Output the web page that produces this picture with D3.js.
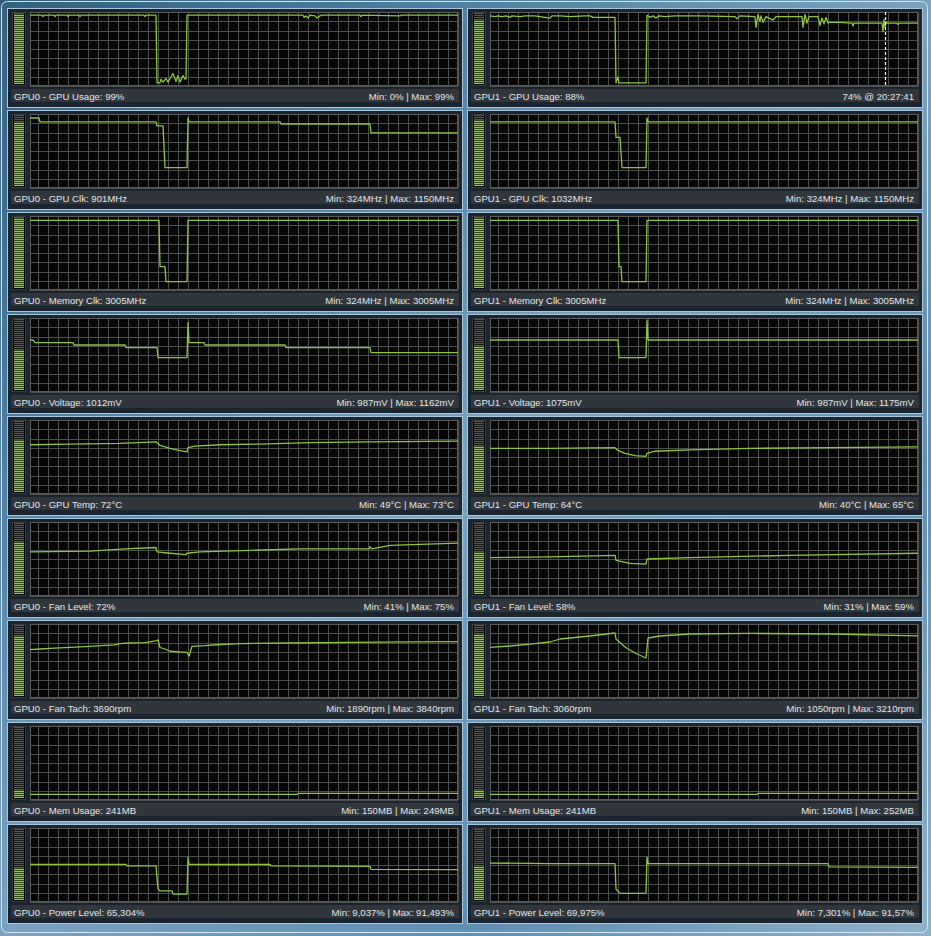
<!DOCTYPE html>
<html><head><meta charset="utf-8">
<script src="https://cdn.jsdelivr.net/npm/d3@7"></script>
<style>html,body{margin:0;padding:0;background:#4a7aa0;overflow:hidden}</style>
</head><body><svg id="c" width="931" height="936"></svg>
<script>
// ---------- DATA ----------
const titles0 = ["GPU0 - GPU Usage: 99%", "GPU0 - GPU Clk: 901MHz", "GPU0 - Memory Clk: 3005MHz", "GPU0 - Voltage: 1012mV", "GPU0 - GPU Temp: 72°C", "GPU0 - Fan Level: 72%", "GPU0 - Fan Tach: 3690rpm", "GPU0 - Mem Usage: 241MB", "GPU0 - Power Level: 65,304%"];
const stats0 = ["Min: 0% | Max: 99%", "Min: 324MHz | Max: 1150MHz", "Min: 324MHz | Max: 3005MHz", "Min: 987mV | Max: 1162mV", "Min: 49°C | Max: 73°C", "Min: 41% | Max: 75%", "Min: 1890rpm | Max: 3840rpm", "Min: 150MB | Max: 249MB", "Min: 9,037% | Max: 91,493%"];
const titles1 = ["GPU1 - GPU Usage: 88%", "GPU1 - GPU Clk: 1032MHz", "GPU1 - Memory Clk: 3005MHz", "GPU1 - Voltage: 1075mV", "GPU1 - GPU Temp: 64°C", "GPU1 - Fan Level: 58%", "GPU1 - Fan Tach: 3060rpm", "GPU1 - Mem Usage: 241MB", "GPU1 - Power Level: 69,975%"];
const stats1 = ["74% @ 20:27:41", "Min: 324MHz | Max: 1150MHz", "Min: 324MHz | Max: 3005MHz", "Min: 987mV | Max: 1175mV", "Min: 40°C | Max: 65°C", "Min: 31% | Max: 59%", "Min: 1050rpm | Max: 3210rpm", "Min: 150MB | Max: 252MB", "Min: 7,301% | Max: 91,57%"];

// y-axis ranges of each graph row [GPU0, GPU1]
const domains0 = [[0,100],[0,1200],[0,3150],[820,1180],[0,100],[0,100],[0,4800],[0,3072],[0,150]];
const domains1 = [[0,100],[0,1200],[0,3150],[820,1180],[0,100],[0,100],[0,3600],[0,3072],[0,150]];
// level meter fill fractions
const meter0 = [0.97, 0.9, 0.97, 0.56, 0.72, 0.72, 0.82, 0.1, 0.44];
const meter1 = [0.88, 0.92, 0.97, 0.6, 0.64, 0.58, 0.85, 0.1, 0.47];

// time window = 428 samples; cursor on GPU1 usage
const timeSpan = 428;
const cursorT = 395;

// series as [sample, value]
const gpu0Usage = [[0,97],[12,97],[13,95],[14,97],[24,97],[25,95],[26,97],[37,97],[38,95],[39,97],[49,97],[50,95],[51,97],[114,97],[115,95],[116,97],[126,97],
 [127,3],[130,3],[131,8],[133,4],[136,9],[138,4],[143,16],[146,5],[148,13],[150,4],[153,13],[155,8],[156,9],
 [157,97],[273,97],[274,94],[276,96],[278,93],[280,97],[285,96],[287,93],[289,95],[291,97],[330,97],[331,95],[332,97],[370,96],[371,97],[428,97]];
const gpu1Usage = [[0,96],[5,95],[8,96],[12,95],[16,96],[20,94],[22,96],[30,95],[35,96],[45,96],[50,95],[60,93],[62,96],[70,96],[80,95],[95,96],[100,96],[103,94],[125,94],
 [126,3],[128,11],[129,3],[156,3],
 [157,97],[160,94],[163,96],[166,93],[169,96],[175,95],[185,96],[210,96],[245,95],[247,92],[250,96],[265,95],[266,80],[268,98],[270,88],[271,96],[273,87],[276,95],[283,90],[286,95],[290,95],[312,95],[313,80],[315,98],[317,86],[319,95],[328,95],[330,83],[332,93],[334,85],[336,94],[338,86],
 [339,87],[350,87],[362,86],[363,82],[364,86],[392,86],[393,74],[394,91],[395,80],[396,88],[397,86],[407,86],[408,84],[409,86],[428,86]];

const gpu0Clk = [[0,1150],[9,1150],[10,1085],[126,1085],[127,1020],[133,1020],[135,324],[157,324],[158,1150],[159,1085],[250,1085],[251,1050],[340,1050],[341,901],[428,901]];
const gpu1Clk = [[0,1085],[125,1085],[126,827],[130,827],[132,324],[156,324],[157,1150],[158,1085],[428,1085]];

const gpu0MemClk = [[0,3005],[129,3005],[130,979],[135,979],[136,324],[157,324],[158,3005],[428,3005]];
const gpu1MemClk = [[0,3005],[128,3005],[129,979],[131,979],[132,324],[156,324],[157,3005],[428,3005]];

const gpu0Volt = [[0,1075],[3,1075],[5,1062],[43,1062],[44,1050],[95,1050],[96,1037],[127,1037],[128,987],[157,987],[158,1162],[159,1062],[174,1062],[175,1050],[255,1050],[256,1037],[340,1037],[341,1012],[428,1012]];
const gpu1Volt = [[0,1075],[128,1075],[129,987],[156,987],[157,1175],[158,1075],[428,1075]];

const gpu0Temp = [[0,67],[40,68],[90,69],[126,71],[127,70],[130,66],[140,62],[150,59],[157,57],[158,63],[165,65],[190,67],[230,68],[280,70],[340,71],[428,72]];
const gpu1Temp = [[0,62],[60,62],[125,63],[127,60],[135,55],[145,52],[156,51],[157,55],[165,58],[200,60],[260,62],[340,63],[428,64]];

const gpu0Fan = [[0,60],[60,61],[95,64],[126,66],[127,60],[140,58],[156,56],[157,58],[170,60],[220,62],[270,64],[339,64],[340,67],[342,64],[360,69],[428,72]];
const gpu1Fan = [[0,52],[60,53],[125,55],[126,48],[140,44],[156,43],[157,50],[200,52],[300,55],[428,58]];

const gpu0Tach = [[0,3160],[10,3200],[20,3240],[30,3280],[45,3330],[60,3380],[75,3440],[85,3470],[90,3560],[100,3600],[115,3620],[127,3760],[128,3810],[130,3300],[135,3200],[140,3050],[150,3000],[157,2980],[159,2720],[162,3380],[175,3420],[190,3500],[210,3560],[260,3600],[320,3640],[380,3680],[428,3690]];
const gpu1Tach = [[0,2480],[20,2550],[40,2640],[60,2750],[70,2900],[100,3050],[125,3200],[126,2900],[135,2500],[145,2200],[156,1950],[158,2950],[170,3050],[200,3150],[260,3180],[340,3150],[428,3060]];

const gpu0MemUse = [[0,200],[267,200],[268,241],[428,241]];
const gpu1MemUse = [[0,200],[267,200],[268,241],[428,241]];

const gpu0Power = [[0,76.5],[96,76.5],[97,73],[126,73],[128,25.7],[130,21],[142,21],[143,14.2],[157,14.2],[158,91.5],[159,76.5],[240,76],[241,73],[340,72],[341,66],[428,65.3]];
const gpu1Power = [[0,79],[60,78],[125,78],[126,25],[130,16],[156,16],[157,91.5],[158,78],[338,78],[339,71],[428,70]];

const series0 = [gpu0Usage, gpu0Clk, gpu0MemClk, gpu0Volt, gpu0Temp, gpu0Fan, gpu0Tach, gpu0MemUse, gpu0Power];
const series1 = [gpu1Usage, gpu1Clk, gpu1MemClk, gpu1Volt, gpu1Temp, gpu1Fan, gpu1Tach, gpu1MemUse, gpu1Power];

// ---------- DRAW ----------
const svg = d3.select("#c");
const defs = svg.append("defs");
const bg = defs.append("linearGradient").attr("id","wall").attr("x1","0").attr("y1","0").attr("x2","1").attr("y2","1");
[["0","#34607f"],["0.25","#4f7fa3"],["0.5","#7aa3c0"],["0.75","#5f8fb3"],["1","#8fb2c9"]].forEach(s=>bg.append("stop").attr("offset",s[0]).attr("stop-color",s[1]));
svg.append("rect").attr("width",931).attr("height",936).attr("fill","url(#wall)");
svg.append("rect").attr("x",1.5).attr("y",1.5).attr("width",926).attr("height",931).attr("rx",6)
  .attr("fill","none").attr("stroke","#d9e6ef").attr("stroke-width",1);

const PW = 455, PH = 99, pitch = 102;
const cols = [{x:7, titles:titles0, stats:stats0, domains:domains0, meter:meter0, series:series0},
              {x:467, titles:titles1, stats:stats1, domains:domains1, meter:meter1, series:series1}];
const gw = 428, gh = 74;
const x = d3.scaleLinear().domain([0,timeSpan]).range([0,gw]);
const meterScale = d3.scaleLinear().domain([0,1]).range([0,36]);

cols.forEach((col,ci)=>{
  for(let r=0;r<9;r++){
    const px = col.x, py = 8 + pitch*r;
    const g = svg.append("g").attr("transform",`translate(${px},${py})`);
    g.append("rect").attr("x",0.5).attr("y",0.5).attr("width",PW).attr("height",PH)
      .attr("fill","#1a2530").attr("stroke","#a9c7da");
    // meter
    const filled = Math.round(meterScale(col.meter[r]));
    const mg = g.append("g").attr("transform","translate(5,4)").attr("shape-rendering","crispEdges");
    mg.append("rect").attr("x",0).attr("y",0).attr("width",14).attr("height",74).attr("fill","#3a3a3a");
    mg.append("rect").attr("x",1).attr("y",1).attr("width",12).attr("height",72).attr("fill","#050505");
    // dark backing behind bars so the lit part reads as green
    mg.append("rect").attr("x",2).attr("y",72 - 2*filled).attr("width",10).attr("height",2*filled).attr("fill","#2c4a12");
    mg.append("rect").attr("x",2).attr("y",1).attr("width",10).attr("height",71 - 2*filled).attr("fill","#1c1c1c");
    mg.selectAll("rect.bar").data(d3.range(36)).join("rect").attr("class","bar")
      .attr("x",2).attr("y",i=>71 - 2*i).attr("width",10).attr("height",1)
      .attr("fill", i => i < filled ? "#8fd032" : "#555555");
    // graph
    const gg = g.append("g").attr("transform","translate(23,4)");
    gg.append("rect").attr("width",gw).attr("height",gh).attr("fill","#060606");
    const y = d3.scaleLinear().domain(col.domains[r]).range([gh-1,1]);
    const vt = d3.range(timeSpan, -1, -10);
    gg.append("g").attr("shape-rendering","crispEdges").selectAll("line").data(vt).join("line")
      .attr("x1",d=>Math.round(x(d))+0.5).attr("x2",d=>Math.round(x(d))+0.5)
      .attr("y1",0).attr("y2",gh).attr("stroke","#4d4d4d");
    const ht = d3.range(0,9);
    gg.append("g").attr("shape-rendering","crispEdges").selectAll("line").data(ht).join("line")
      .attr("x1",0).attr("x2",gw)
      .attr("y1",d=>Math.round(d*gh/8)+0.5).attr("y2",d=>Math.round(d*gh/8)+0.5).attr("stroke","#4d4d4d");
    gg.append("rect").attr("x",0.5).attr("y",0.5).attr("width",gw-1).attr("height",gh-1).attr("fill","none").attr("stroke","#5a5a5a").attr("shape-rendering","crispEdges");
    const clipId = `clip${ci}_${r}`;
    defs.append("clipPath").attr("id",clipId).append("rect").attr("width",gw).attr("height",gh);
    gg.append("path").datum(col.series[r]).attr("clip-path",`url(#${clipId})`)
      .attr("d", d3.line().x(d=>x(d[0])).y(d=>y(d[1])))
      .attr("fill","none").attr("stroke","#8cc43e").attr("stroke-width",1.3).attr("stroke-linejoin","round");
    if(ci===1 && r===0){
      gg.append("line").attr("x1",Math.round(x(cursorT))+0.5).attr("x2",Math.round(x(cursorT))+0.5)
        .attr("y1",0).attr("y2",gh).attr("stroke","#ffffff").attr("stroke-width",1.2).attr("stroke-dasharray","3,2");
    }
    // text bar
    g.append("rect").attr("x",4).attr("y",81).attr("width",448).attr("height",13).attr("fill","#30363b");
    g.append("text").attr("x",7).attr("y",91.5).text(col.titles[r])
      .attr("font-family","'Liberation Sans', Arial, sans-serif").attr("font-size","9.6px").attr("fill","#e2e6ea");
    g.append("text").attr("x",447).attr("y",91.5).attr("text-anchor","end").text(col.stats[r])
      .attr("font-family","'Liberation Sans', Arial, sans-serif").attr("font-size","9.6px").attr("fill","#e2e6ea");
  }
});
</script></body></html>
